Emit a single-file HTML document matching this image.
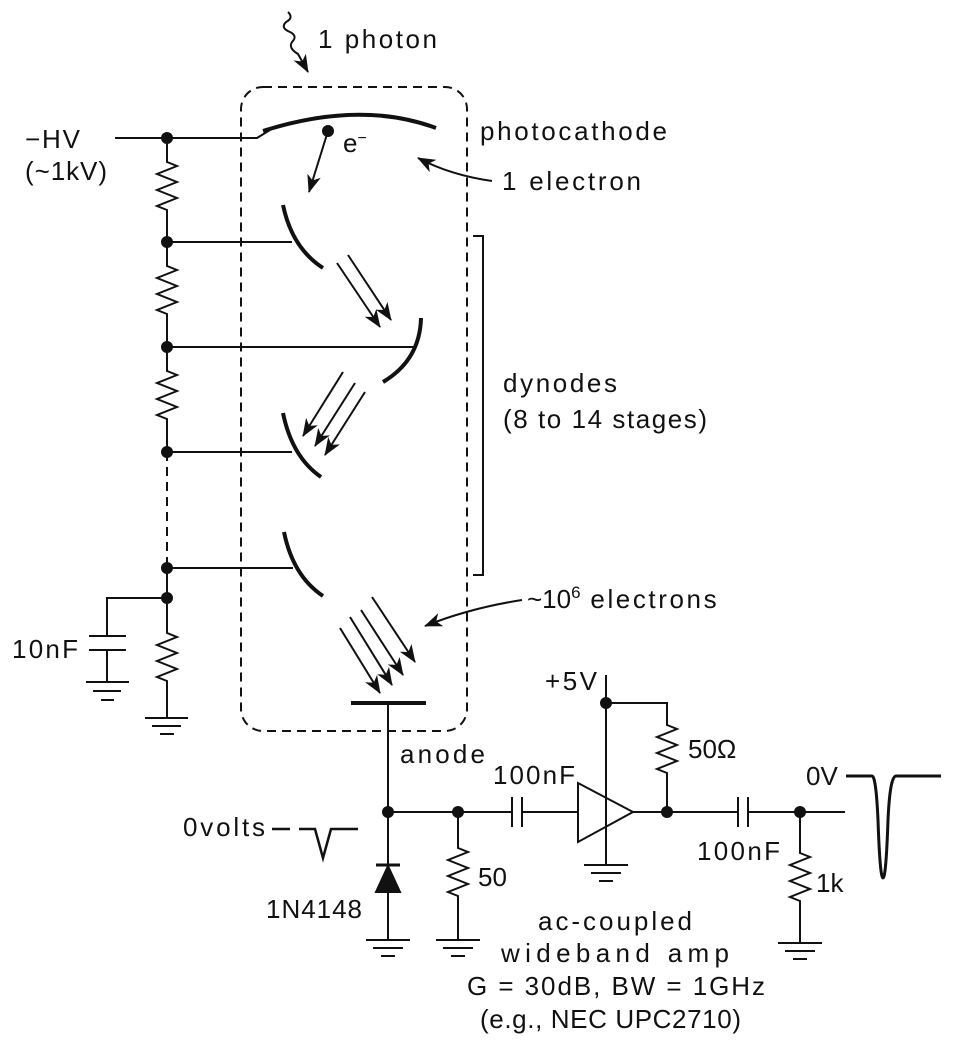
<!DOCTYPE html>
<html><head><style>body{margin:0;background:#fff}svg{display:block}text{font-family:"Liberation Sans",sans-serif;font-size:26px;fill:#111}</style></head><body>
<svg width="957" height="1052" viewBox="0 0 957 1052" xmlns="http://www.w3.org/2000/svg">
<defs>
<marker id="b" markerWidth="18" markerHeight="14" refX="17" refY="7" orient="auto" markerUnits="userSpaceOnUse"><path d="M0,0 L18,7 L0,14 L5,7z" fill="#111"/></marker></defs>
<g stroke="#111" stroke-width="2" fill="none">
<rect x="241" y="87" width="226" height="644" rx="22" stroke-dasharray="9,6"/>
<path d="M115,138 H257 L270,130"/>
<path d="M263,131 Q360,100 436,128" stroke-width="4"/>
<path d="M328,131 L309,192" marker-end="url(#b)"/>
<path d="M167,138 V162 l10,4 -20,8 20,8 -20,8 20,8 -20,8 10,4 V242"/>
<path d="M167,242 V266 l10,4 -20,8 20,8 -20,8 20,8 -20,8 10,4 V347"/>
<path d="M167,347 V371 l10,4 -20,8 20,8 -20,8 20,8 -20,8 10,4 V452"/>
<path d="M167,452 V568" stroke-dasharray="9,6"/>
<path d="M167,568 V633 l10,4 -20,8 20,8 -20,8 20,8 -20,8 10,4 V718"/>
<path d="M145,718 H188 M152,726 H181 M160,734 H174"/>
<path d="M167,598 H107 V636 M89,636 H126 M89,650 H126 M107,650 V682 M86,682 H129 M93,691 H121 M101,700 H114"/>
<path d="M167,242 H292 M167,347 H414 M167,452 H292 M167,568 H293"/>
<path d="M283,205 Q292,248 323,268" stroke-width="4"/>
<path d="M421,318 Q420,360 383,382" stroke-width="4"/>
<path d="M283,413 Q292,457 321,477" stroke-width="4"/>
<path d="M284,532 Q293,576 323,596" stroke-width="4"/>
<path d="M337,263 L380,327" marker-end="url(#b)"/>
<path d="M348,255 L391,320" marker-end="url(#b)"/>
<path d="M343,372 L303,436" marker-end="url(#b)"/>
<path d="M355,383 L315,446" marker-end="url(#b)"/>
<path d="M365,392 L325,455" marker-end="url(#b)"/>
<path d="M340,628 L380,693" marker-end="url(#b)"/>
<path d="M350,617 L392,685" marker-end="url(#b)"/>
<path d="M361,610 L403,675" marker-end="url(#b)"/>
<path d="M372,597 L415,662" marker-end="url(#b)"/>
<path d="M351,703 H426" stroke-width="4"/>
<path d="M473,236 H483 V575 H473"/>
<path d="M288,12 q6,6 -2,10 q-6,6 4,10 q8,4 2,10 q-4,6 6,12 L308,72" marker-end="url(#b)"/>
<path d="M492,181 Q450,175 418,158" marker-end="url(#b)"/>
<path d="M522,600 Q470,608 425,626" marker-end="url(#b)"/>
<path d="M388,703 V865 M388,892 V940 M366,940 H410 M373,948 H403 M381,956 H395"/>
<path d="M376,865 H400" stroke-width="3"/>
<path d="M388,866 L376,892 H400z" fill="#111"/>
<path d="M388,812 H512 M512,797 V827 M522,797 V827 M522,812 H578"/>
<path d="M458,812 V848 l10,4 -20,8 20,8 -20,8 20,8 -20,8 10,4 V940 M436,940 H480 M443,948 H473 M451,956 H465"/>
<path d="M578,783 L633,812 L578,842z"/>
<path d="M606,675 V865 M584,865 H628 M591,873 H621 M599,881 H613"/>
<path d="M606,703 H667 V725 l10,4 -20,8 20,8 -20,8 20,8 -20,8 10,4 V812"/>
<path d="M633,812 H738 M738,797 V827 M748,797 V827 M748,812 H845"/>
<path d="M800,812 V853 l10,4 -20,8 20,8 -20,8 20,8 -20,8 10,4 V943 M778,943 H822 M785,951 H815 M793,959 H807"/>
<path d="M846,776 H872 Q876,776 878,820 Q880,878 883,878 Q886,878 888,820 Q890,776 896,776 H941" stroke-width="3"/>
<path d="M272,829 H290 M299,829 H315 L323,858 L331,829 H358" stroke-width="2.5"/>
</g>
<g fill="#111">
<circle cx="167" cy="138" r="6"/><circle cx="167" cy="242" r="6"/><circle cx="167" cy="347" r="6"/><circle cx="167" cy="452" r="6"/><circle cx="167" cy="568" r="6"/><circle cx="167" cy="598" r="6"/>
<circle cx="328" cy="131" r="6"/>
<circle cx="388" cy="812" r="6"/><circle cx="458" cy="812" r="6"/><circle cx="606" cy="703" r="6"/><circle cx="667" cy="812" r="6"/><circle cx="800" cy="812" r="6"/>
</g>
<text x="318" y="48" textLength="119" lengthAdjust="spacing">1 photon</text>
<text x="25" y="148" textLength="55" lengthAdjust="spacing">−HV</text>
<text x="25" y="180" textLength="82" lengthAdjust="spacing">(~1kV)</text>
<text x="343" y="152">e<tspan dy="-9" font-size="16">−</tspan></text>
<text x="480" y="140" textLength="187" lengthAdjust="spacing">photocathode</text>
<text x="502" y="190" textLength="139" lengthAdjust="spacing">1 electron</text>
<text x="503" y="392" textLength="114" lengthAdjust="spacing">dynodes</text>
<text x="503" y="428" textLength="204" lengthAdjust="spacing">(8 to 14 stages)</text>
<text x="527" y="608">~10<tspan dy="-10" font-size="17">6</tspan><tspan dy="10" textLength="136" lengthAdjust="spacing"> electrons</tspan></text>
<text x="12" y="658" textLength="66" lengthAdjust="spacing">10nF</text>
<text x="400" y="763" textLength="85" lengthAdjust="spacing">anode</text>
<text x="493" y="784" textLength="82" lengthAdjust="spacing">100nF</text>
<text x="545" y="690" textLength="52" lengthAdjust="spacing">+5V</text>
<text x="688" y="758">50Ω</text>
<text x="806" y="785">0V</text>
<text x="183" y="836" textLength="82" lengthAdjust="spacing">0volts</text>
<text x="697" y="860" textLength="83" lengthAdjust="spacing">100nF</text>
<text x="478" y="886">50</text>
<text x="816" y="892">1k</text>
<text x="266" y="918" textLength="96" lengthAdjust="spacing">1N4148</text>
<text x="538" y="930" textLength="154" lengthAdjust="spacing">ac-coupled</text>
<text x="501" y="962" textLength="228" lengthAdjust="spacing">wideband amp</text>
<text x="467" y="995" textLength="298" lengthAdjust="spacing">G = 30dB, BW = 1GHz</text>
<text x="480" y="1028" textLength="261" lengthAdjust="spacing">(e.g., NEC UPC2710)</text>
</svg>
</body></html>
